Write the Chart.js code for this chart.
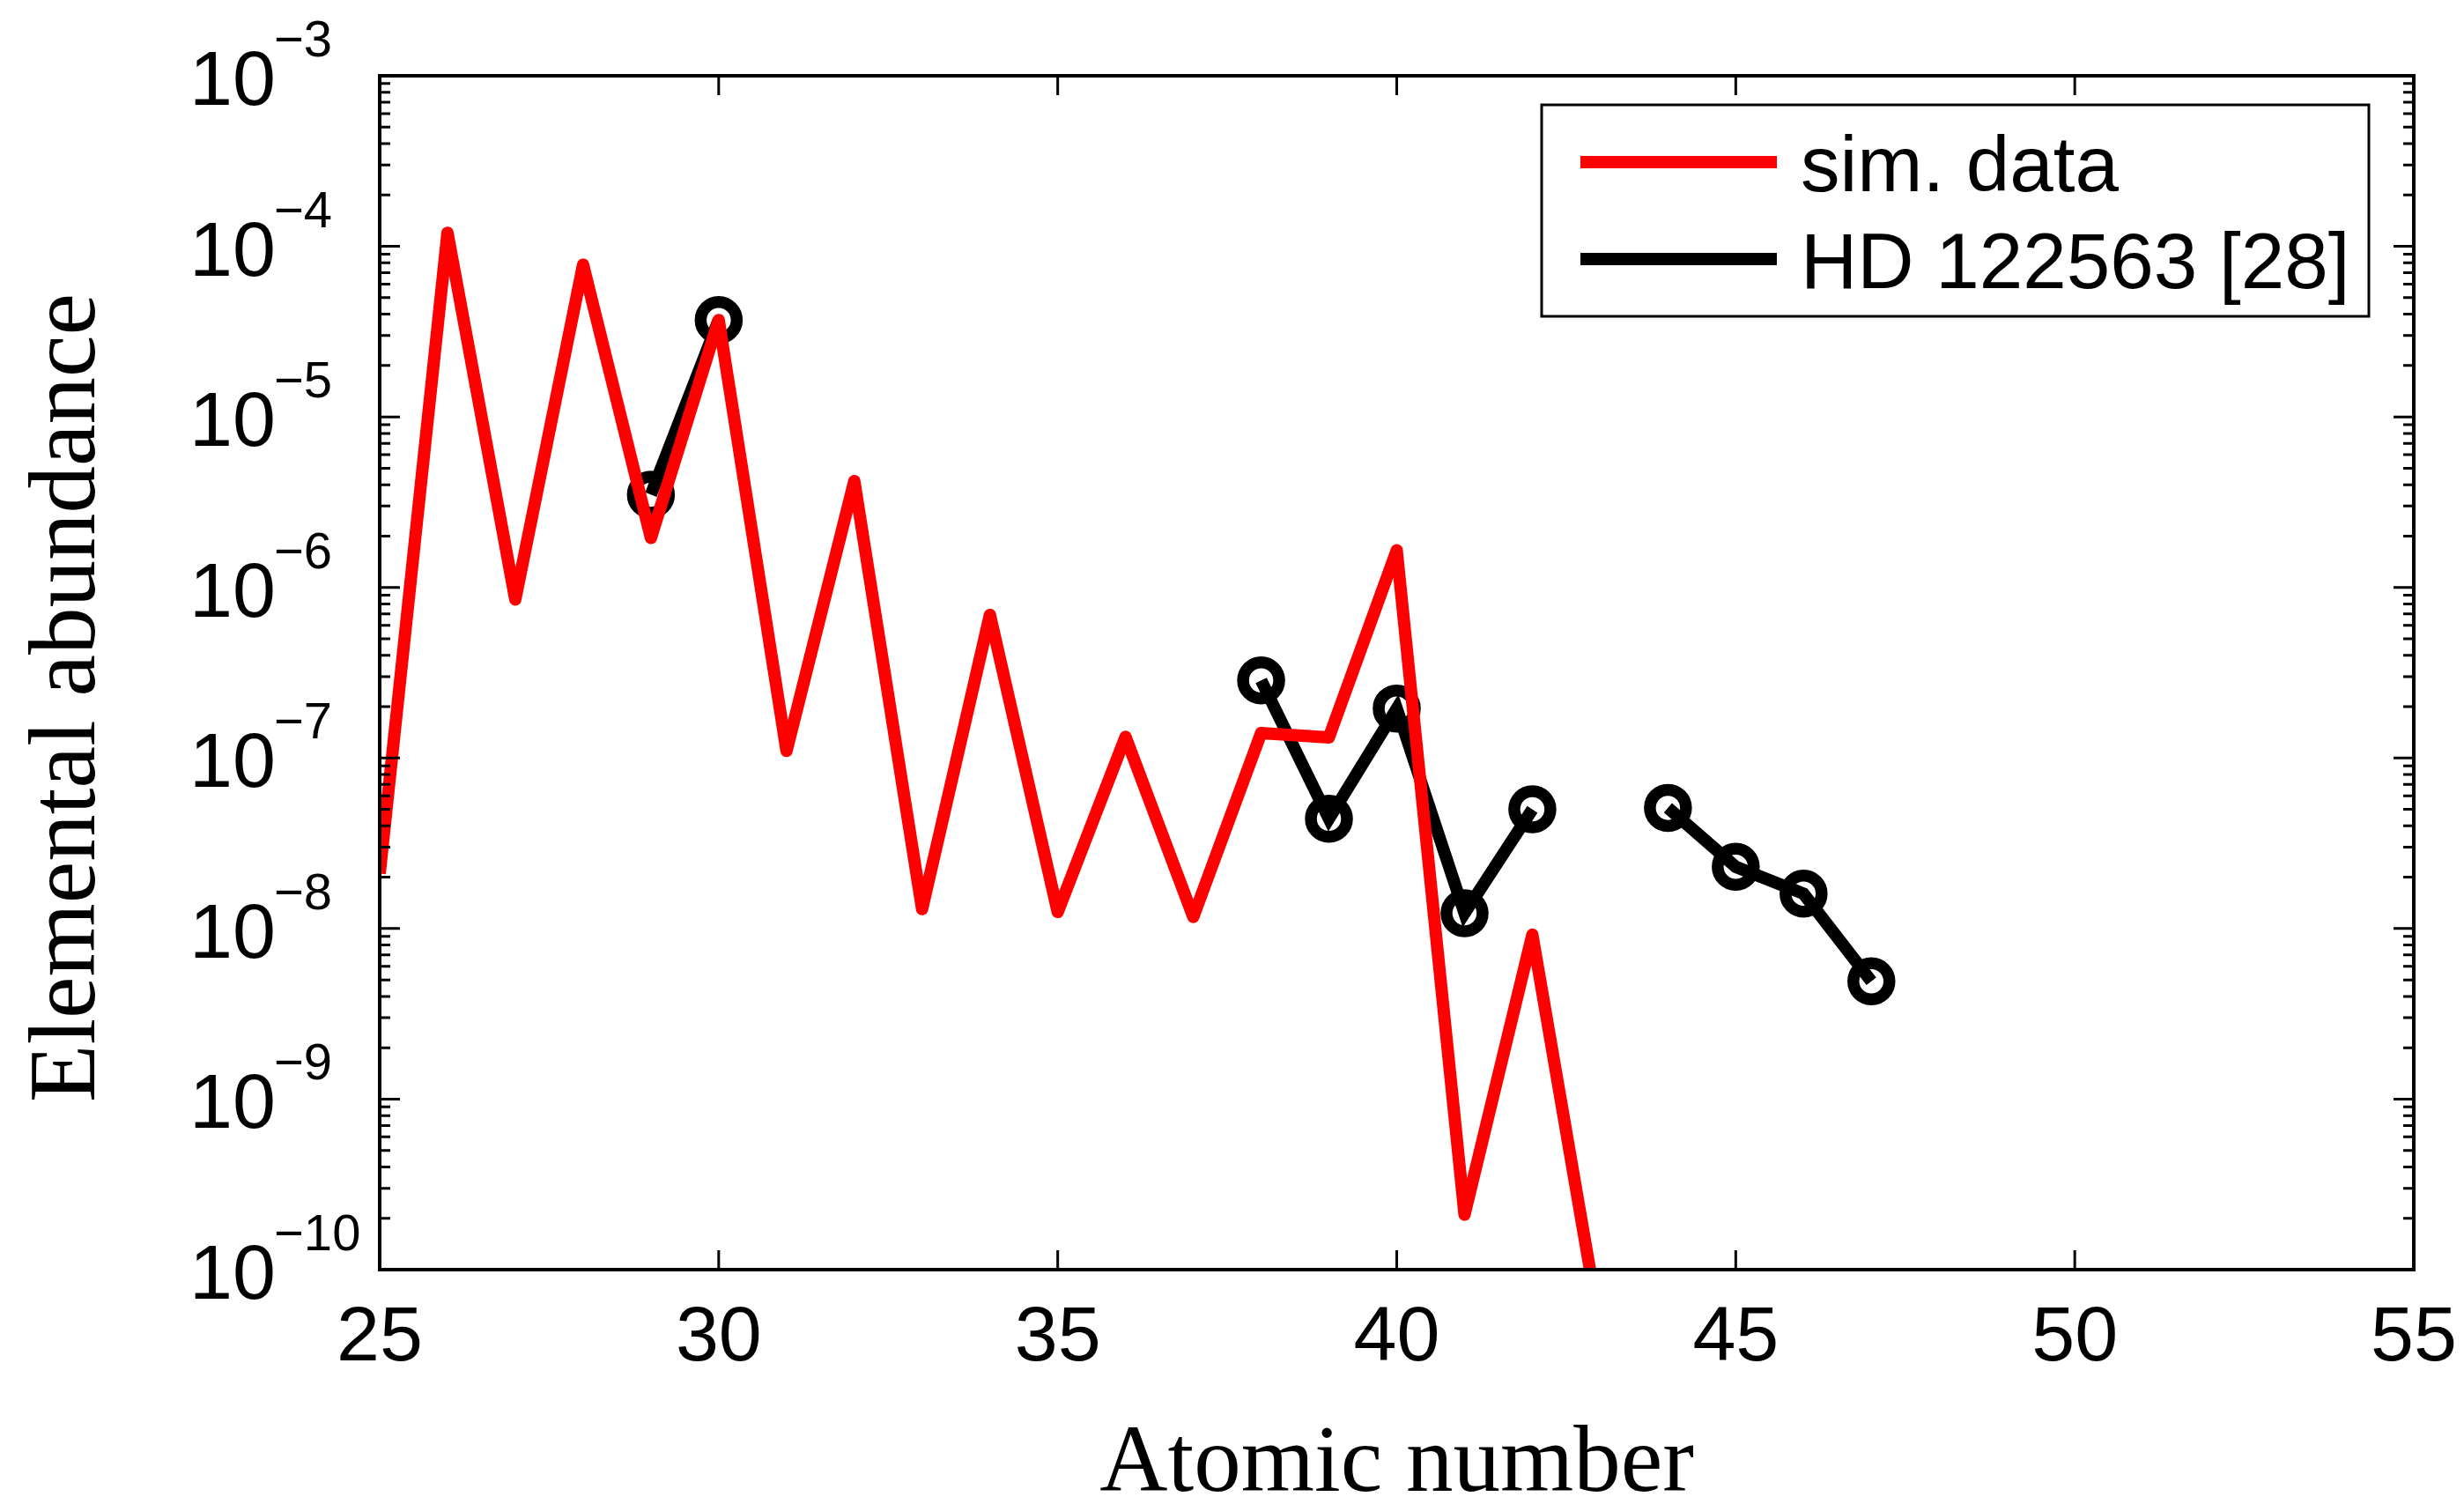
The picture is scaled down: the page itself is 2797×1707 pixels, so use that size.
<!DOCTYPE html>
<html>
<head>
<meta charset="utf-8">
<script src="https://cdn.jsdelivr.net/npm/chart.js@4.4.1/dist/chart.umd.min.js"></script>
<style>
  html, body { margin: 0; padding: 0; background: #fff; }
  #wrap { width: 2797px; height: 1707px; }
</style>
</head>
<body>
<div id="wrap"><canvas id="abundChart" width="2797" height="1707"></canvas></div>
<script>
// simulated abundances (red)
const simZ = [25, 26, 27, 28, 29, 30, 31, 32, 33, 34, 35, 36, 37, 38, 39, 40, 41, 42, 43];
const simAbund = [2.1e-8, 1.2e-4, 8.5e-7, 7.8e-5, 1.95e-6, 3.7e-5, 1.1e-7, 4.2e-6, 1.3e-8, 6.9e-7,
                  1.25e-8, 1.33e-7, 1.17e-8, 1.4e-7, 1.32e-7, 1.65e-6, 2.1e-10, 9.2e-9, 4.5e-11];

// HD 122563 observations (black), null = no point
const obsZ = [29, 30, 31, 32, 33, 34, 35, 36, 37, 38, 39, 40, 41, 42, 43, 44, 45, 46, 47];
const obsAbund = [3.5e-6, 3.7e-5, null, null, null, null, null, null, null, 2.85e-7, 4.4e-8, 1.95e-7,
                  1.23e-8, 5.0e-8, null, 5.1e-8, 2.3e-8, 1.6e-8, 4.9e-9];

const xTicks = [25, 30, 35, 40, 45, 50, 55];
const yExponents = [-10, -9, -8, -7, -6, -5, -4, -3];

const labelFont = '88px "Liberation Sans", Arial, sans-serif';
const supFont = '58px "Liberation Sans", Arial, sans-serif';
const titleFont = '107px "Liberation Serif", "Times New Roman", serif';
const legendFont = '89px "Liberation Sans", Arial, sans-serif';

// matlab style box, inward ticks, labels, titles and legend
const axesPlugin = {
    id: 'matlabAxes',
    afterDatasetsDraw(chart) {
        const ctx = chart.ctx;
        const { left, right, top, bottom } = chart.chartArea;
        const xs = chart.scales.x;
        const ys = chart.scales.y;

        ctx.save();
        ctx.strokeStyle = '#000';
        ctx.fillStyle = '#000';

        // ticks
        ctx.lineWidth = 3;
        ctx.beginPath();
        xTicks.forEach(v => {
            const px = xs.getPixelForValue(v);
            ctx.moveTo(px, bottom); ctx.lineTo(px, bottom - 22);
            ctx.moveTo(px, top); ctx.lineTo(px, top + 22);
        });
        yExponents.forEach(e => {
            for (let m = 1; m <= 9; m++) {
                const v = m * Math.pow(10, e);
                if (e === -3 && m > 1) break;
                const py = ys.getPixelForValue(v);
                const len = m === 1 ? 23 : 12;
                ctx.moveTo(left, py); ctx.lineTo(left + len, py);
                ctx.moveTo(right, py); ctx.lineTo(right - len, py);
            }
        });
        ctx.stroke();

        // frame
        ctx.lineWidth = 4;
        ctx.strokeRect(left, top, right - left, bottom - top);

        // x tick labels
        ctx.font = labelFont;
        ctx.textAlign = 'center';
        ctx.textBaseline = 'alphabetic';
        xTicks.forEach(v => {
            ctx.fillText(String(v), xs.getPixelForValue(v), bottom + 103);
        });

        // y tick labels 10^e
        ctx.textAlign = 'left';
        yExponents.forEach(e => {
            const py = ys.getPixelForValue(Math.pow(10, e));
            ctx.font = labelFont;
            ctx.fillText('10', left - 216, py + 33);
            ctx.font = supFont;
            ctx.fillText('\u2212' + Math.abs(e), left - 120, py - 22);
        });

        // axis titles
        ctx.font = titleFont;
        ctx.textAlign = 'center';
        ctx.fillText('Atomic number', (left + right) / 2, bottom + 251);
        ctx.save();
        ctx.translate(107, 792);
        ctx.rotate(-Math.PI / 2);
        ctx.fillText('Elemental abundance', 0, 0);
        ctx.restore();

        // legend
        const bx = right - 990, by = top + 33, bw = 939, bh = 240;
        ctx.fillStyle = '#fff';
        ctx.fillRect(bx, by, bw, bh);
        ctx.lineWidth = 3;
        ctx.strokeRect(bx, by, bw, bh);
        ctx.font = legendFont;
        ctx.textAlign = 'left';
        chart.data.datasets.forEach((ds, i) => {
            const sy = by + 65 + i * 110;
            ctx.strokeStyle = ds.borderColor;
            ctx.lineWidth = 14;
            ctx.beginPath();
            ctx.moveTo(bx + 44, sy);
            ctx.lineTo(bx + 267, sy);
            ctx.stroke();
            ctx.fillStyle = '#000';
            ctx.fillText(ds.label, bx + 294, sy + 33);
        });

        ctx.restore();
    }
};

const ctx = document.getElementById('abundChart').getContext('2d');
new Chart(ctx, {
    type: 'line',
    data: {
        datasets: [
            {
                label: 'sim. data',
                data: simZ.map((z, i) => ({ x: z, y: simAbund[i] })),
                borderColor: '#ff0000',
                borderWidth: 14,
                borderJoinStyle: 'round',
                pointRadius: 0,
                tension: 0,
                clip: 0
            },
            {
                label: 'HD 122563 [28]',
                data: obsZ.map((z, i) => ({ x: z, y: obsAbund[i] })),
                borderColor: '#000000',
                borderWidth: 14,
                borderJoinStyle: 'miter',
                pointStyle: 'circle',
                pointRadius: 20.5,
                pointBorderWidth: 13.5,
                pointBackgroundColor: 'rgba(0,0,0,0)',
                pointBorderColor: '#000000',
                spanGaps: false,
                tension: 0
            }
        ]
    },
    options: {
        responsive: false,
        animation: false,
        devicePixelRatio: 1,
        layout: { padding: { left: 431, right: 57, top: 86, bottom: 266 } },
        plugins: {
            legend: { display: false },
            tooltip: { enabled: false }
        },
        scales: {
            x: { type: 'linear', min: 25, max: 55, display: false },
            y: { type: 'logarithmic', min: 1e-10, max: 1e-3, display: false }
        }
    },
    plugins: [axesPlugin]
});
</script>
</body>
</html>
